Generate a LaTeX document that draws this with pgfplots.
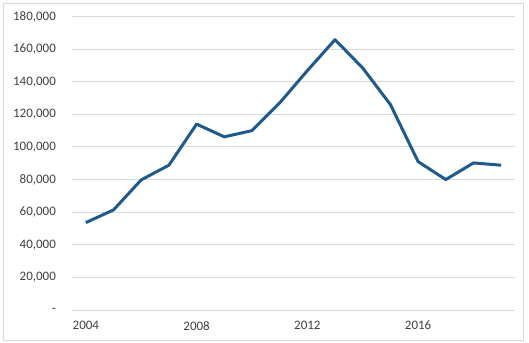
\documentclass[border=0pt]{standalone}
\usepackage{pgfplots}
\pgfplotsset{compat=1.18}
\usepackage{fontspec}
\setmainfont{Carlito}
\definecolor{linec}{HTML}{1F5A8A}
\definecolor{gridc}{HTML}{D9D9D9}
\definecolor{textc}{HTML}{404040}
\begin{document}
\begin{tikzpicture}[x=1bp,y=1bp]
\path[use as bounding box] (0,0) rectangle (529,342);
\draw[gridc, line width=0.9bp] (3,2) rectangle (523,339);
\begin{axis}[
  at={(72bp,32bp)}, anchor=south west,
  scale only axis, width=443bp, height=293.5bp,
  xmin=2003.5, xmax=2019.5,
  ymin=0, ymax=180000,
  scaled ticks=false,
  xtick={2004,2008,2012,2016},
  xticklabels={2004,2008,2012,2016},
  ytick={0,20000,40000,60000,80000,100000,120000,140000,160000,180000},
  yticklabels={{-\hspace{6bp}},{20,000},{40,000},{60,000},{80,000},{100,000},{120,000},{140,000},{160,000},{180,000}},
  axis line style={draw=none},
  major tick length=0pt,
  ymajorgrids,
  grid style={gridc, line width=0.9bp},
  ticklabel style={font=\fontsize{13}{15}\selectfont, text=textc},
  yticklabel style={anchor=east, inner sep=0pt, xshift=-16bp},
  xticklabel style={anchor=north, inner sep=0pt, yshift=-11bp},
  clip=false,
]
\addplot[linec, line width=3bp, line join=round, no markers] coordinates {
(2004,53600) (2005,61400) (2006,79800) (2007,88800) (2008,114000)
(2009,106200) (2010,110000) (2011,127000) (2012,146800) (2013,165800)
(2014,148400) (2015,126000) (2016,91000) (2017,80000) (2018,90200) (2019,88800)
};
\end{axis}
\end{tikzpicture}
\end{document}
